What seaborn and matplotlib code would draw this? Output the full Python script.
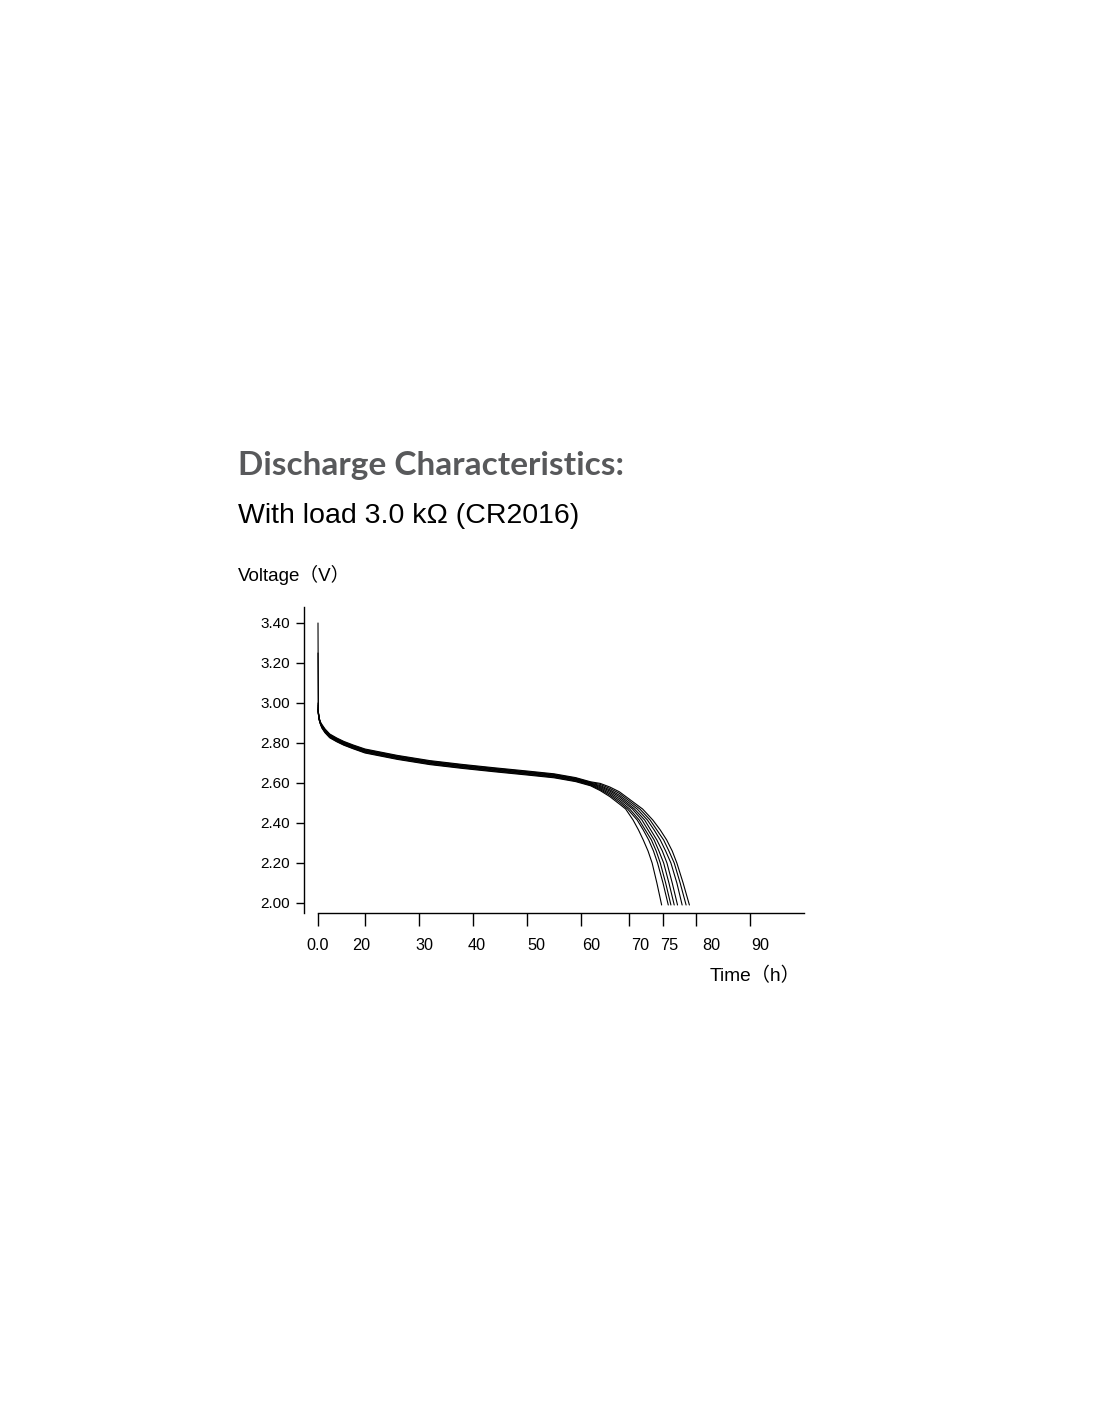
import numpy as np
import pandas as pd
import matplotlib
matplotlib.use('Agg')
import matplotlib.pyplot as plt
import seaborn as sns

# hours shared by all cells up to the knee
hours_common = [0, 0.15, 0.5, 1.0, 1.7, 3, 5, 8, 11, 15, 20, 26, 32, 38, 44, 50, 55, 59, 62, 64, 66, 68]

volts_common = {
    'cell_1': [3.40, 2.945, 2.915, 2.895, 2.874, 2.851, 2.826, 2.806, 2.789, 2.771, 2.750, 2.718, 2.692, 2.673, 2.656, 2.640, 2.626, 2.607, 2.586, 2.562, 2.532, 2.495],
    'cell_2': [2.97, 2.946, 2.916, 2.896, 2.876, 2.853, 2.828, 2.808, 2.791, 2.773, 2.753, 2.721, 2.695, 2.676, 2.659, 2.643, 2.629, 2.610, 2.589, 2.567, 2.539, 2.504],
    'cell_3': [2.99, 2.948, 2.918, 2.898, 2.878, 2.856, 2.831, 2.811, 2.794, 2.776, 2.756, 2.724, 2.698, 2.679, 2.662, 2.646, 2.632, 2.613, 2.592, 2.572, 2.546, 2.513],
    'cell_4': [3.25, 2.950, 2.920, 2.900, 2.881, 2.859, 2.834, 2.814, 2.797, 2.779, 2.759, 2.727, 2.701, 2.682, 2.665, 2.649, 2.635, 2.616, 2.595, 2.577, 2.553, 2.522],
    'cell_5': [2.98, 2.951, 2.921, 2.901, 2.884, 2.862, 2.837, 2.817, 2.800, 2.782, 2.762, 2.730, 2.704, 2.685, 2.668, 2.652, 2.638, 2.619, 2.598, 2.582, 2.560, 2.531],
    'cell_6': [2.96, 2.952, 2.922, 2.902, 2.886, 2.864, 2.839, 2.819, 2.802, 2.784, 2.764, 2.732, 2.706, 2.687, 2.670, 2.654, 2.640, 2.621, 2.600, 2.587, 2.566, 2.539],
    'cell_7': [3.00, 2.954, 2.924, 2.904, 2.889, 2.867, 2.842, 2.822, 2.805, 2.787, 2.767, 2.735, 2.709, 2.690, 2.673, 2.657, 2.643, 2.624, 2.603, 2.593, 2.573, 2.548],
    'cell_8': [2.97, 2.955, 2.925, 2.905, 2.892, 2.870, 2.845, 2.825, 2.808, 2.790, 2.770, 2.738, 2.712, 2.693, 2.676, 2.660, 2.646, 2.627, 2.606, 2.598, 2.580, 2.556],
}

# end of discharge: voltage levels and the hour each cell reaches them
volts_drop = [2.47, 2.415, 2.365, 2.315, 2.26, 2.20, 2.10, 1.99]
hours_drop = {
    'cell_1': [69.3, 70.6, 71.4, 72.1, 72.8, 73.4, 74.1, 74.8],
    'cell_2': [69.7, 71.2, 72.1, 72.9, 73.6, 74.2, 75.0, 75.8],
    'cell_3': [70.1, 71.5, 72.4, 73.3, 74.0, 74.6, 75.4, 76.2],
    'cell_4': [70.5, 71.9, 72.8, 73.7, 74.4, 75.1, 75.9, 76.7],
    'cell_5': [70.8, 72.3, 73.2, 74.1, 74.9, 75.6, 76.4, 77.2],
    'cell_6': [71.2, 72.7, 73.7, 74.6, 75.4, 76.2, 77.1, 77.9],
    'cell_7': [71.6, 73.1, 74.1, 75.1, 75.9, 76.7, 77.6, 78.5],
    'cell_8': [72.0, 73.5, 74.6, 75.56, 76.4, 77.1, 78.05, 79.0],
}

tick_hours = [0, 20, 30, 40, 50, 60, 70, 75, 80, 90]
tick_labels = ['0.0', '20', '30', '40', '50', '60', '70', '75', '80', '90']
y_ticks = [2.00, 2.20, 2.40, 2.60, 2.80, 3.00, 3.20, 3.40]

# the time axis of the original is not linear: where each tick sits along it
axis_pos = [0, 47, 101, 155, 209, 263, 311, 345, 378, 432]
label_pos = [0, 43, 106, 159, 218, 273, 322, 351, 393.5, 442]

rows = []
for cell in volts_common:
    hrs = hours_common + hours_drop[cell]
    vs = volts_common[cell] + volts_drop
    for h, v in zip(hrs, vs):
        rows.append((cell, h, v))
df = pd.DataFrame(rows, columns=['cell', 'hours', 'volt'])
df['xpos'] = np.interp(df['hours'], tick_hours, axis_pos)

sns.set_theme(style='ticks')
plt.rcParams['font.family'] = ['Liberation Sans', 'Noto Sans CJK SC']

W, H = 1100, 1422
fig = plt.figure(figsize=(W / 100, H / 100), dpi=100)
ax = fig.add_axes([304 / W, 1 - 913 / H, 500 / W, 306 / H])

sns.lineplot(data=df, x='xpos', y='volt', units='cell', estimator=None,
             color='black', lw=0.8, sort=False, legend=False, ax=ax)

ax.set_xlim(-14, 486)
ax.set_ylim(1.95, 3.48)
ax.spines['top'].set_visible(False)
ax.spines['right'].set_visible(False)
ax.spines['bottom'].set_bounds(0, 486)
for s in ['left', 'bottom']:
    ax.spines[s].set_color('black')
    ax.spines[s].set_linewidth(1.0)

ax.xaxis.remove_overlapping_locs = False
ax.set_xticks(axis_pos)
ax.set_xticklabels([])
ax.set_xticks(label_pos, minor=True)
ax.set_xticklabels(tick_labels, minor=True, fontsize=11.7)
ax.tick_params(axis='x', which='major', length=9, width=1, color='black', direction='out')
ax.tick_params(axis='x', which='minor', length=0, pad=18, labelcolor='black')

ax.set_yticks(y_ticks)
ax.set_yticklabels([f'{v:.2f}' for v in y_ticks], fontsize=11)
ax.tick_params(axis='y', length=6, width=1, color='black', direction='out', pad=4,
               labelcolor='black')
ax.set_xlabel('')
ax.set_ylabel('')

fig.text(238 / W, 1 - 475 / H, 'Discharge Characteristics:', fontsize=24,
         fontweight='bold', color='#58595b', family=['Lato', 'DejaVu Sans'], va='baseline')
fig.text(238 / W, 1 - 523 / H, 'With load 3.0 kΩ (CR2016)', fontsize=20.5,
         color='black', va='baseline')
fig.text(238 / W, 1 - 581 / H, 'Voltage（V）', fontsize=13.5, color='black', va='baseline')
fig.text(710 / W, 1 - 981 / H, 'Time（h）', fontsize=13.8, color='black', va='baseline')

fig.savefig('out.png', dpi=100)
